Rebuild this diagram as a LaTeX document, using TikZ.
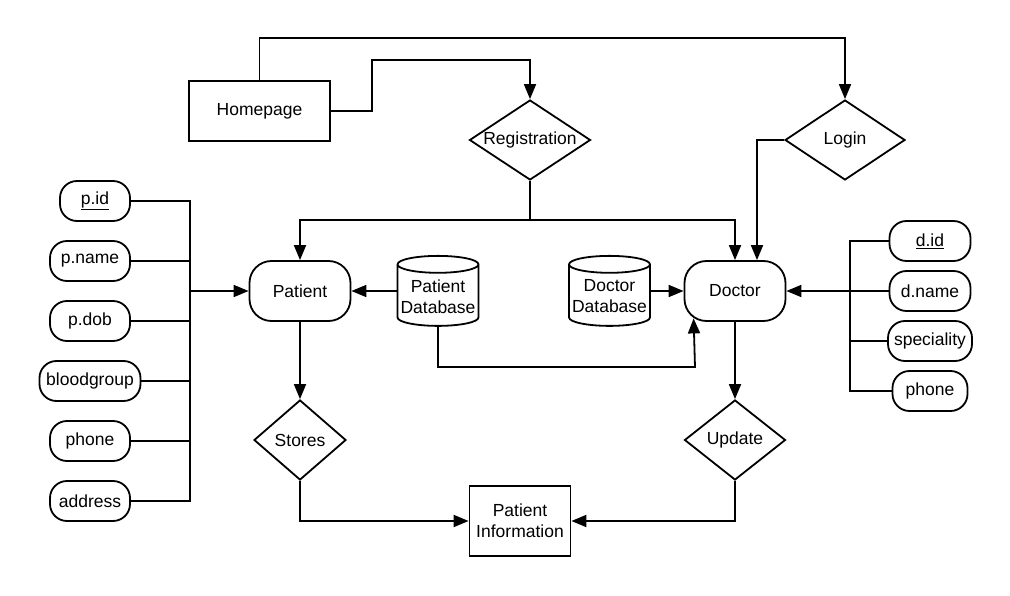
\documentclass[tikz,border=0pt]{standalone}
\usepackage{fontspec}
\setmainfont{Liberation Sans}
\usetikzlibrary{shapes.geometric,arrows.meta,positioning}

\begin{document}
\begin{tikzpicture}[x=1pt,y=-1pt,node distance=60pt,on grid,line width=1.8pt,
 font=\fontsize{17.5}{21}\selectfont,
 every node/.style={draw,align=center,inner sep=1pt},
 box/.style={rectangle,minimum width=141pt,minimum height=60pt},
 rel/.style={diamond,aspect=1.5,inner sep=0pt,minimum height=80pt},
 ent/.style={rectangle,rounded corners=22pt,minimum width=101pt,minimum height=60pt},
 attr/.style={rectangle,rounded corners=17pt,minimum width=80pt,minimum height=40pt},
 db/.style={cylinder,shape border rotate=90,aspect=0.22,minimum width=81pt,minimum height=70pt},
 arr/.style={-{Triangle[length=15pt,width=12pt]}}]
 \useasboundingbox (0,0) rectangle (1010,596);
 \node[box] (n_home) at (259.5,111) {Homepage};
 \node[rel,minimum width=121pt] (n_reg) at (530,140) {Registration};
 \node[rel,minimum width=120pt] (n_login) at (845,140) {Login};
 \node[ent] (n_pat) at (300,291) {Patient};
 \node[db] (n_pdb) at (438,296.5) {Patient\\Database};
 \node[db] (n_ddb) at (609.5,296.5) {Doctor\\Database};
 \node[ent] (n_doc) at (735,291) {Doctor};
 \node[rel,minimum width=92pt] (n_sto) at (300,440) {Stores};
 \node[rel,minimum width=101pt] (n_upd) at (735,440) {Update};
 \node[box,minimum width=101pt,minimum height=70pt] (n_info) at (520,521) {Patient\\Information};
 \node[attr,minimum width=70pt] (p_id) at (95,201) {\underline{p.id}};
 \node[attr] (p_name) at (90,261) {p.name};
 \node[attr] (p_dob)[below=of p_name] {p.dob};
 \node[attr,minimum width=101pt] (p_blood)[below=of p_dob] {bloodgroup};
 \node[attr] (p_phone)[below=of p_blood] {phone};
 \node[attr] (p_addr)[below=of p_phone] {address};
 \node[attr,minimum width=81pt] (d_id) at (930,241) {\underline{d.id}};
 \node[attr,minimum width=81pt] (d_name)[below=50pt of d_id] {d.name};
 \node[attr,minimum width=84pt] (d_spec)[below=50pt of d_name] {speciality};
 \node[attr,minimum width=75pt] (d_phone)[below=50pt of d_spec] {phone};
 \coordinate (p_bus) at (190,291);
 \coordinate (d_bus) at (850,291);
 \coordinate (c_split) at (530,220);
 \coordinate (c_dbturn) at (695,367);
 \draw[arr] (n_home.north) -- ++(0,-42) -| (n_login.north);
 \draw[arr] (n_home.east) -- ++(41,0) -- ++(0,-51) -| (n_reg.north);
 \draw (n_reg.south) -- (c_split);
 \draw[arr] (c_split) -| (n_pat.north);
 \draw[arr] (c_split) -| (n_doc.north);
 \draw[arr] (n_login.west) -| ([xshift=22pt]n_doc.north);
 \draw[arr] (n_pdb.west |- n_pat.east) -- (n_pat.east);
 \draw[arr] (n_ddb.east |- n_doc.west) -- (n_doc.west);
 \draw[arr] (n_pdb.south) |- (c_dbturn) -- ([xshift=10pt,yshift=3.5pt]n_doc.south west);
 \draw[arr] (n_pat.south) -- (n_sto.north);
 \draw[arr] (n_doc.south) -- (n_upd.north);
 \draw[arr] (n_sto.south) |- (n_info.west);
 \draw[arr] (n_upd.south) |- (n_info.east);
 \draw (p_id.east) -| (p_bus);
 \draw (p_addr.east) -| (p_bus);
 \foreach \a in {p_name,p_dob,p_blood,p_phone} \draw (\a.east) -- (\a.east -| p_bus);
 \draw[arr] (p_bus) -- (n_pat.west);
 \draw (d_id.west) -| (d_bus);
 \draw (d_phone.west) -| (d_bus);
 \draw (d_spec.west) -- (d_spec.west -| d_bus);
 \draw[arr] (d_name.west) -- (n_doc.east);
\end{tikzpicture}
\end{document}
